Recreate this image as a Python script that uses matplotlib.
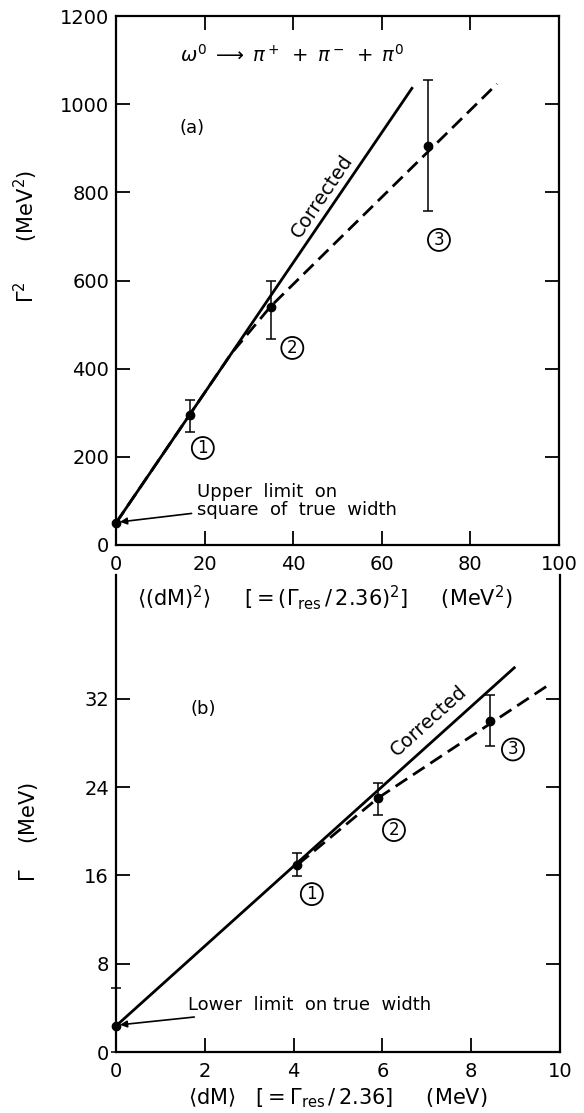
import matplotlib.pyplot as plt
import numpy as np

# panel (a): Gamma^2 vs <(dM)^2>
a_x = [0.0, 16.6, 34.9, 70.5]
a_y = [50.0, 295.0, 541.0, 904.0]
a_err_lo = [0.0, 39.0, 74.0, 147.0]
a_err_hi = [0.0, 33.0, 57.0, 151.0]
a_corr_x = [0.0, 66.8]
a_corr_y = [50.0, 1036.0]
a_dash_x = [0.0, 26.0, 34.9, 86.0]
a_dash_y = [50.0, 434.0, 541.0, 1046.0]

# panel (b): Gamma vs <dM>
b_x = [0.0, 4.08, 5.9, 8.43]
b_y = [2.36, 16.9, 23.0, 30.0]
b_err_lo = [2.36, 1.0, 1.5, 2.3]
b_err_hi = [3.44, 1.1, 1.4, 2.3]
b_corr_x = [0.0, 8.97]
b_corr_y = [2.36, 34.8]
b_dash_x = [4.1, 5.9, 9.69]
b_dash_y = [17.0, 23.0, 33.1]

plt.rcParams["font.family"] = "DejaVu Sans"
plt.rcParams["mathtext.fontset"] = "dejavusans"

W, H = 584, 1113
fig = plt.figure(figsize=(W / 100, H / 100), dpi=100)


def px_box(x0, y0, x1, y1):
    return [x0 / W, 1 - y1 / H, (x1 - x0) / W, (y1 - y0) / H]


def circled(ax, x, y, s):
    ax.text(x, y, s, ha="center", va="center", fontsize=12,
            bbox=dict(boxstyle="circle,pad=0.12", fc="none", ec="black", lw=1.3))


def style(ax):
    for sp in ax.spines.values():
        sp.set_linewidth(1.6)
    ax.tick_params(direction="in", length=10, width=1.3, labelsize=14)
    ax.tick_params(axis="x", pad=7)
    ax.tick_params(axis="y", pad=5)


dash = (0, (5, 2.5))

# ---- top panel
ax1 = fig.add_axes(px_box(116, 16, 559, 545))
style(ax1)
ax1.tick_params(top=True, right=True)
ax1.set_xlim(0, 100)
ax1.set_ylim(0, 1200)
ax1.set_xticks(np.arange(0, 101, 20))
ax1.set_yticks(np.arange(0, 1201, 200))

ax1.plot(a_corr_x, a_corr_y, color="black", lw=2.0, zorder=2)
ax1.plot(a_dash_x, a_dash_y, color="black", lw=2.0, ls=dash, zorder=2)
ax1.errorbar(a_x[1:], a_y[1:], yerr=[a_err_lo[1:], a_err_hi[1:]], fmt="o", color="black",
             ms=6, elinewidth=1.1, capsize=3.5, capthick=1.1, zorder=3)
ax1.plot(a_x[0], a_y[0], "o", color="black", ms=6, clip_on=False, zorder=4)

ax1.text(39.7, 1111, r"$\omega^0 \;\longrightarrow\; \pi^+ \;+\; \pi^- \;+\; \pi^0$",
         ha="center", va="center", fontsize=14)
ax1.text(17.2, 946, "(a)", ha="center", va="center", fontsize=13)
ax1.text(46.5, 792, "Corrected", ha="center", va="center", fontsize=14, rotation=56)
circled(ax1, 19.6, 220, "1")
circled(ax1, 39.8, 447, "2")
circled(ax1, 72.9, 692, "3")
ax1.annotate("Upper  limit  on\nsquare  of  true  width", xy=(0.6, 52), xytext=(18.3, 100),
             ha="left", va="center", fontsize=13, linespacing=0.95,
             arrowprops=dict(arrowstyle="-|>", color="black", lw=1.2,
                             mutation_scale=10, shrinkA=2, shrinkB=1))

fig.text(325 / W, 1 - 598 / H,
         r"$\langle(\mathrm{dM})^2\rangle$     $[=(\Gamma_{\mathrm{res}}\,/\,2.36)^2]$     (MeV$^2$)",
         ha="center", va="center", fontsize=15)
fig.text(26 / W, 1 - 236 / H, r"$\Gamma^2$      (MeV$^2$)", rotation=90,
         ha="center", va="center", fontsize=15)

# ---- bottom panel
ax2 = fig.add_axes(px_box(116, 575, 560, 1052))
style(ax2)
ax2.spines["top"].set_visible(False)
ax2.tick_params(top=False, right=True)
ax2.set_xlim(0, 10)
ax2.set_ylim(0, 43.2)
ax2.set_xticks(np.arange(0, 11, 2))
ax2.set_yticks(np.arange(0, 33, 8))

ax2.plot(b_corr_x, b_corr_y, color="black", lw=2.0, zorder=2)
ax2.plot(b_dash_x, b_dash_y, color="black", lw=2.0, ls=dash, zorder=2)
ax2.errorbar(b_x, b_y, yerr=[b_err_lo, b_err_hi], fmt="o", color="black",
             ms=6, elinewidth=1.1, capsize=3.5, capthick=1.1, zorder=3, clip_on=False)

ax2.text(1.96, 31.1, "(b)", ha="center", va="center", fontsize=13)
ax2.text(7.05, 30.0, "Corrected", ha="center", va="center", fontsize=14, rotation=42)
circled(ax2, 4.41, 14.3, "1")
circled(ax2, 6.26, 20.1, "2")
circled(ax2, 8.94, 27.4, "3")
ax2.annotate("Lower  limit  on true  width", xy=(0.06, 2.45), xytext=(1.62, 4.26),
             ha="left", va="center", fontsize=13,
             arrowprops=dict(arrowstyle="-|>", color="black", lw=1.2,
                             mutation_scale=10, shrinkA=2, shrinkB=1))

fig.text(338 / W, 1 - 1098 / H,
         r"$\langle\mathrm{dM}\rangle$   $[=\Gamma_{\mathrm{res}}\,/\,2.36]$     (MeV)",
         ha="center", va="center", fontsize=15)
fig.text(28 / W, 1 - 832 / H, r"$\Gamma$    (MeV)", rotation=90,
         ha="center", va="center", fontsize=15)

fig.savefig("out.png", dpi=100, facecolor="white")
